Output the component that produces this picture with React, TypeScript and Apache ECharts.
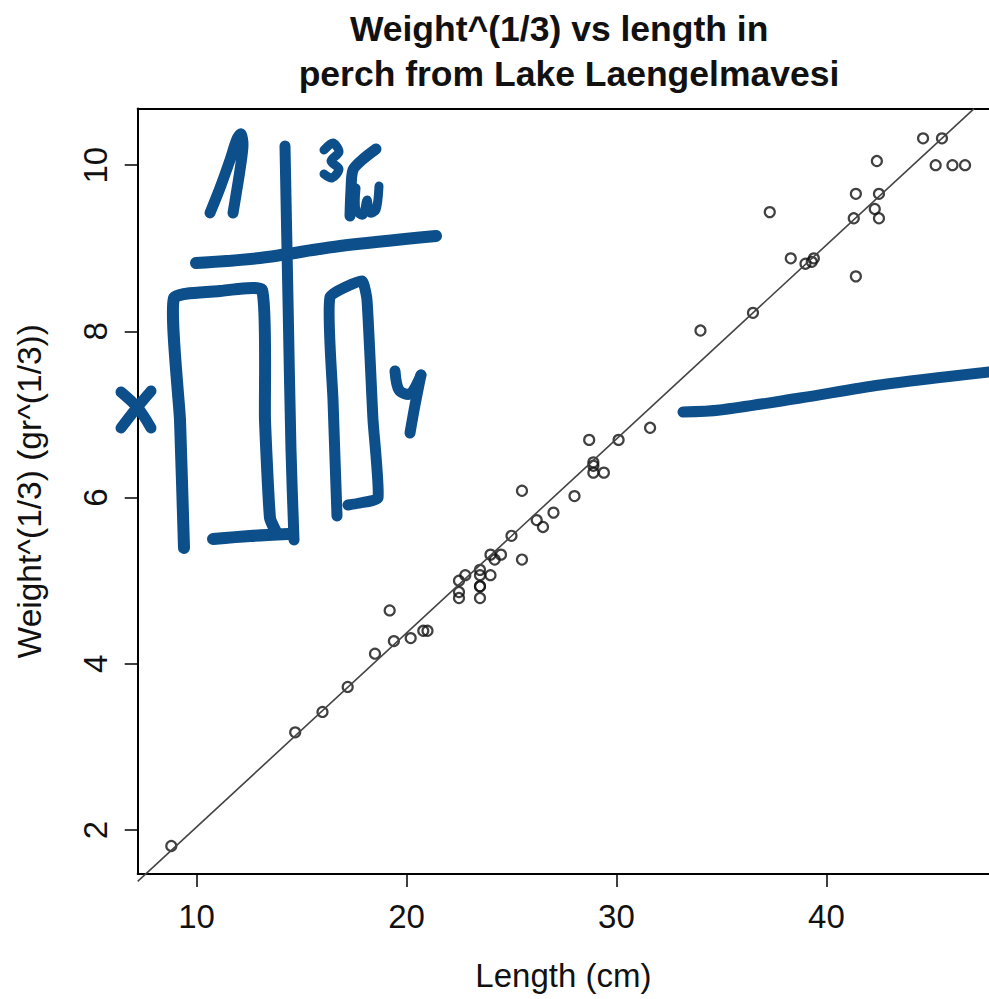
import React, { useEffect, useRef } from "react";
import * as echarts from "echarts";

const titleLines = ["Weight^(1/3) vs length in  ", "perch from Lake Laengelmavesi"];
const xName = "Length (cm)";
const yName = "Weight^(1/3) (gr^(1/3))";
const xTicks = [10, 20, 30, 40];
const yTicks = [2, 4, 6, 8, 10];

// Length (cm) of each perch
const lengthCm = [
  8.8, 14.7, 16.0, 17.2, 18.5, 19.2, 19.4, 20.2, 20.8, 21.0,
  22.5, 22.5, 22.5, 22.8, 23.5, 23.5, 23.5, 23.5, 23.5, 24.0,
  24.0, 24.2, 24.5, 25.0, 25.5, 25.5, 26.2, 26.5, 27.0, 28.0,
  28.7, 28.9, 28.9, 28.9, 29.4, 30.1, 31.6, 34.0, 36.5, 37.3,
  39.0, 38.3, 39.4, 39.3, 41.4, 41.4, 41.3, 42.3, 42.5, 42.4,
  42.5, 44.6, 45.2, 45.5, 46.0, 46.6,
];
// Weight^(1/3) (gr^(1/3)) of each perch
const cubeRootWeight = [
  1.807, 3.175, 3.42, 3.721, 4.121, 4.642, 4.273, 4.309, 4.397, 4.397,
  4.791, 4.863, 5.0, 5.066, 4.932, 4.932, 5.066, 5.13, 4.791, 5.066,
  5.313, 5.254, 5.313, 5.54, 6.082, 5.254, 5.729, 5.646, 5.819, 6.018,
  6.694, 6.383, 6.424, 6.3, 6.3, 6.694, 6.84, 8.01, 8.223, 9.435,
  8.814, 8.879, 8.879, 8.837, 9.655, 8.662, 9.361, 9.473, 9.655, 10.05,
  9.361, 10.323, 10.0, 10.323, 10.0, 10.0,
];
// fitted straight line: intercept, slope, and the x extent it is drawn over
const fitIntercept = -0.3;
const fitSlope = 0.2335;
const fitX = [7.2, 47.03];

const INK = "#0c4f8b";

type Pt = [number, number];
const strokes: { pts: Pt[]; smooth?: number; w?: number }[] = [
  // script l
  { pts: [[210, 213], [220, 188], [230, 160], [237, 139], [241, 134], [243, 145], [240, 170], [236, 195], [233, 213]], smooth: 0.3 },
  // vertical rule
  { pts: [[285, 146], [288, 300], [291, 450], [294, 540]], smooth: 0.3 },
  // superscript 3
  { pts: [[324, 150], [333, 143], [339, 152], [331, 161], [339, 169], [332, 178], [324, 174]], smooth: 0.3, w: 9 },
  // radical
  { pts: [[350, 216], [351, 190], [353, 170], [362, 160], [376, 149]], smooth: 0.3 },
  // omega
  { pts: [[356, 188], [356, 210], [363, 215], [367, 200], [370, 213], [376, 210], [379, 186]], smooth: 0.3, w: 9 },
  // horizontal rule
  { pts: [[196, 263], [260, 258], [340, 246], [436, 236]], smooth: 0.3, w: 12 },
  // left box
  { pts: [[184, 548], [180, 420], [174, 298], [220, 291], [262, 290], [265, 420], [270, 518], [276, 532]], smooth: 0.15, w: 12 },
  { pts: [[213, 539], [250, 536], [288, 534]], smooth: 0.3, w: 12 },
  // right box
  { pts: [[337, 516], [333, 400], [330, 297], [362, 281], [367, 300], [373, 420], [378, 498], [360, 503], [348, 505]], smooth: 0.15 },
  // x
  { pts: [[121, 392], [138, 408], [151, 428]], smooth: 0.3 },
  { pts: [[151, 391], [135, 410], [121, 428]], smooth: 0.3 },
  // y
  { pts: [[395, 371], [399, 390], [410, 394], [421, 375]], smooth: 0.3 },
  { pts: [[421, 375], [415, 405], [410, 433]], smooth: 0.3 },
  // long curve
  { pts: [[683, 412], [720, 410], [800, 398], [880, 385], [989, 372]], smooth: 0.3 },
];

export default function App() {
  const ref = useRef<HTMLDivElement>(null);
  useEffect(() => {
    if (!ref.current) return;
    const chart = echarts.init(ref.current, null, { renderer: "svg" });
    const font = "'Liberation Sans', Arial, Helvetica, sans-serif";
    const points = lengthCm.map((x, i) => [x, cubeRootWeight[i]]);
    const fit = fitX.map((x) => [x, fitIntercept + fitSlope * x]);
    chart.setOption({
      animation: false,
      backgroundColor: "#ffffff",
      title: {
        text: titleLines.join("\n"),
        left: 569,
        top: 6.5,
        padding: 0,
        textAlign: "center",
        textStyle: { fontFamily: font, fontSize: 35.5, fontWeight: "bold", color: "#111", lineHeight: 45 },
      },
      grid: { left: 137.7, top: 108.5, right: 0, bottom: 125 },
      xAxis: [
        {
          type: "value",
          min: 7.2,
          max: 47.74,
          position: "bottom",
          name: xName,
          nameLocation: "middle",
          nameGap: 85,
          nameTextStyle: { fontFamily: font, fontSize: 33, color: "#111" },
          axisLine: { show: true, onZero: false, lineStyle: { color: "#000", width: 2 } },
          axisTick: { show: true, customValues: xTicks, length: 13, lineStyle: { color: "#000", width: 1.5 } },
          axisLabel: { customValues: xTicks, fontFamily: font, fontSize: 33, color: "#111", margin: 26 },
          splitLine: { show: false },
        },
        {
          type: "value",
          min: 7.2,
          max: 47.74,
          position: "top",
          axisLine: { show: true, onZero: false, lineStyle: { color: "#000", width: 2 } },
          axisTick: { show: false },
          axisLabel: { show: false },
          splitLine: { show: false },
        },
      ],
      yAxis: {
        type: "value",
        min: 1.47,
        max: 10.682,
        name: yName,
        nameLocation: "middle",
        nameRotate: 90,
        nameGap: 91,
        nameTextStyle: { fontFamily: font, fontSize: 33.5, color: "#111" },
        axisLine: { show: true, onZero: false, lineStyle: { color: "#000", width: 2 } },
        axisTick: { show: true, customValues: yTicks, length: 13, lineStyle: { color: "#000", width: 1.5 } },
        axisLabel: { customValues: yTicks, rotate: 90, fontFamily: font, fontSize: 33, color: "#111", margin: 26 },
        splitLine: { show: false },
      },
      series: [
        {
          type: "line",
          data: fit,
          showSymbol: false,
          clip: false,
          lineStyle: { color: "#444", width: 1.6 },
          silent: true,
        },
        {
          type: "scatter",
          data: points,
          symbol: "circle",
          symbolSize: 10,
          itemStyle: { color: "rgba(0,0,0,0)", borderColor: "#111", borderWidth: 2.2 },
        },
      ],
      graphic: strokes.map((s) => ({
        type: "polyline",
        shape: { points: s.pts, smooth: s.smooth ?? 0 },
        style: { stroke: INK, lineWidth: s.w ?? 11, lineCap: "round", lineJoin: "round", fill: null },
        z: 100,
      })),
    });
    return () => chart.dispose();
  }, []);
  return (
    <div
      ref={ref}
      style={{ position: "fixed", left: 0, top: 0, width: 989, height: 999, background: "#fff" }}
    />
  );
}
